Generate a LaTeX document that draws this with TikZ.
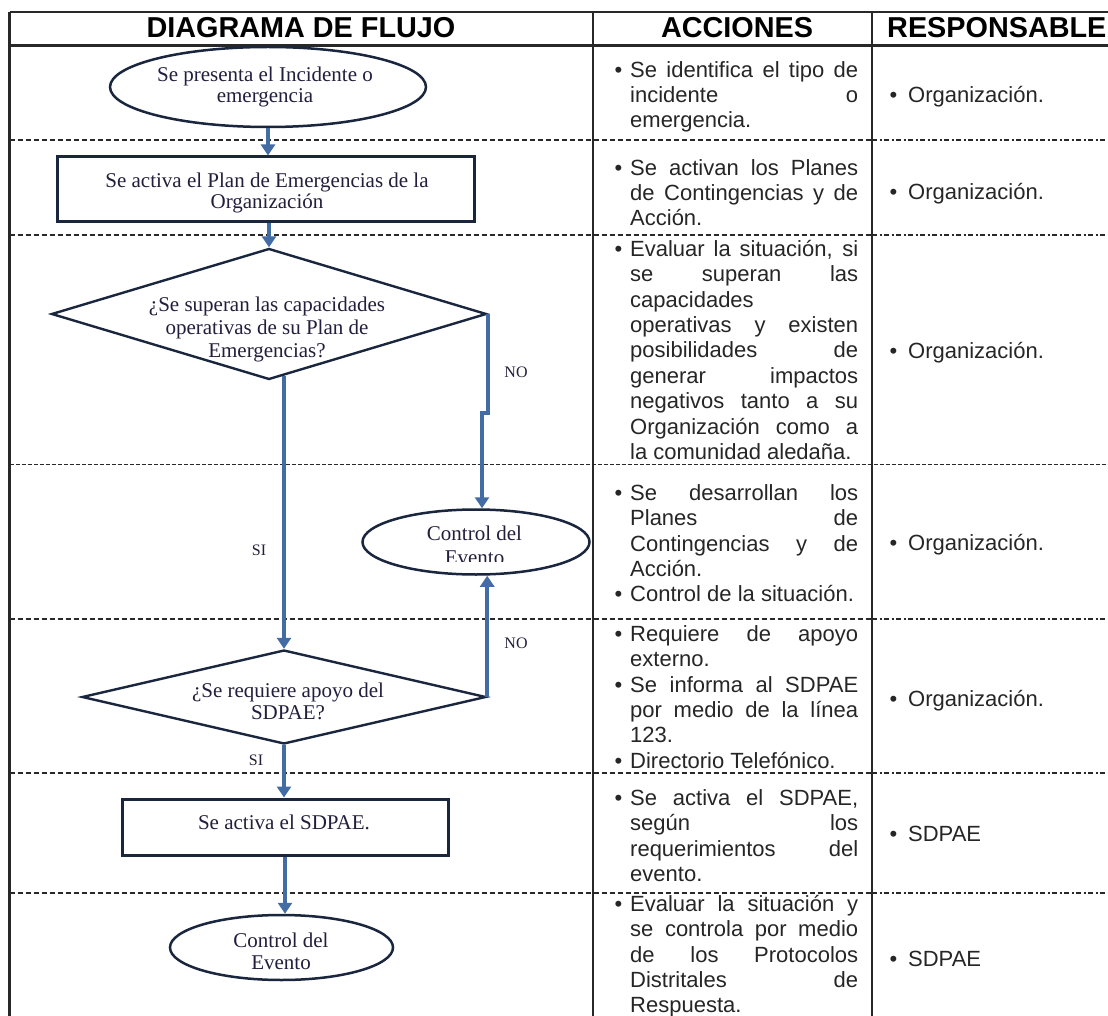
\documentclass[tikz,border=0pt]{standalone}
\usepackage{fontspec}
\setmainfont{Liberation Serif}
\newfontfamily\arialf{Liberation Sans}
\usetikzlibrary{shapes.geometric,arrows.meta,calc}
\definecolor{arrowblue}{RGB}{66,108,163}
\definecolor{shapeline}{RGB}{25,38,62}
\definecolor{shapetext}{RGB}{35,30,60}
\definecolor{gridline}{RGB}{40,40,40}
\newcommand{\jline}[1]{\makebox[228pt][s]{#1}}
\newcommand{\bul}{\llap{•\hspace{8pt}}}
\tikzset{
  grid/.style={draw=gridline, line width=2.5pt},
  sepA/.style={draw=gridline, line width=2pt, dash pattern=on 5pt off 3pt},
  sepB/.style={draw=gridline, line width=2pt, dash pattern=on 5pt off 2.5pt on 2pt off 2.5pt},
  sepC/.style={draw=gridline, line width=1pt, dash pattern=on 4pt off 2pt},
  hdr/.style={font=\arialf\bfseries\fontsize{28.8}{30}\selectfont, inner sep=0, text=black},
  acc/.style={font=\arialf\fontsize{22}{25.4}\selectfont, align=left, inner sep=0, anchor=north west, text=black!85},
  resp/.style={font=\arialf\fontsize{22}{25.4}\selectfont, inner sep=0, anchor=base west, text=black!85},
  term/.style={ellipse, draw=shapeline, line width=2.5pt, fill=white, inner sep=0},
  proc/.style={rectangle, draw=shapeline, line width=3pt, fill=white, inner sep=0},
  dec/.style={diamond, draw=shapeline, line width=2.4pt, fill=white, inner sep=0},
  ftext/.style={font=\fontsize{21}{21}\selectfont, align=center, inner sep=0, text=shapetext},
  lbl/.style={font=\fontsize{16}{17}\selectfont, inner sep=0, text=shapetext},
  flow/.style={draw=arrowblue, line width=3.8pt, -{Triangle[length=11pt,width=14pt]}},
}
\begin{document}
\begin{tikzpicture}[x=1pt,y=-1pt]
\useasboundingbox (0,0) rectangle (1108,1016);
\fill[white] (0,0) rectangle (1108,1016);

% table frame
\draw[grid] (9.5,12) -- (1108,12);
\draw[grid] (9.5,45.5) -- (1108,45.5);
\draw[grid] (9.5,12) -- (9.5,1016);
\draw[grid] (593,12) -- (593,1016);
\draw[grid] (872,12) -- (872,1016);
\foreach \yy in {140,235,619,773,893}{
  \draw[sepA] (9.5,\yy) -- (593,\yy) -- (872,\yy);
  \draw[sepB] (872,\yy) -- (1108,\yy);
}
\draw[sepC] (9.5,464) -- (1108,464);

% headers
\node[hdr] (h1) at (301,28) {DIAGRAMA DE FLUJO};
\node[hdr] (h2) at (737,28) {ACCIONES};
\node[hdr, anchor=west] (h3) at (887,28) {RESPONSABLE};

% flow shapes
\node[term, minimum width=316pt, minimum height=80pt] (e1) at (268,87) {};
\node[ftext] (te1) at (265,87) {Se presenta el Incidente o\\emergencia};

\node[proc, minimum width=417pt, minimum height=65pt] (r1) at (265.5,189.5) {};
\node[ftext] (tr1) at (267,193) {Se activa el Plan de Emergencias de la\\Organización};

\node[dec, minimum width=435pt, minimum height=131pt] (d1) at (269,314) {};
\begin{scope}
  \clip (60,280) rectangle (480,361);
  \node[ftext, font=\fontsize{21}{23}\selectfont] (td1) at (267,329) {¿Se superan las capacidades\\operativas de su Plan de\\Emergencias?};
\end{scope}

\node[term, minimum width=227pt, minimum height=65pt] (e2) at (476,542) {};
\begin{scope}
  \clip (380,515) rectangle (580,561);
  \node[ftext, font=\fontsize{21}{24}\selectfont] (te2) at (474.5,545) {Control del\\Evento};
\end{scope}

\node[dec, minimum width=404pt, minimum height=94pt] (d2) at (284,697) {};
\node[ftext, font=\fontsize{21}{22}\selectfont] (td2) at (288,701) {¿Se requiere apoyo del\\SDPAE?};

\node[proc, minimum width=326pt, minimum height=56pt] (r2) at (285,827) {};
\node[ftext] (tr2) at (284,822) {Se activa el SDPAE.};

\node[term, minimum width=223pt, minimum height=65pt] (e3) at (281.5,947.5) {};
\node[ftext, font=\fontsize{21}{22}\selectfont] (te3) at (281,951) {Control del\\Evento};

% connectors
\coordinate (jog) at (482,413);
\draw[flow] (e1.south) -- (e1.south |- r1.north);
\draw[flow] (r1.south -| d1.north) -- (d1.north);
\draw[flow] ($(d2.north |- d1.south)+(0,-5)$) -- (d2.north);
\draw[flow] (d1.east) -- (d1.east |- jog) -- (jog) -- (jog |- e2.north);
\draw[flow] (d2.east) -- (d2.east |- e2.south);
\draw[flow] (d2.south) -- (d2.south |- r2.north);
\draw[flow] (r2.south) -- (r2.south |- e3.north);

% labels
\node[lbl] (si1) at (259,550) {SI};
\node[lbl] (no1) at (516,372) {NO};
\node[lbl] (no2) at (516,643) {NO};
\node[lbl] (si2) at (256,760) {SI};

% acciones
\node[acc] (a1) at (630,59) {\rule{0pt}{18pt}\bul\jline{Se identifica el tipo de}\\\jline{incidente o}\\emergencia.};
\node[acc] (a2) at (630,157) {\rule{0pt}{18pt}\bul\jline{Se activan los Planes}\\\jline{de Contingencias y de}\\Acción.};
\node[acc] (a3) at (630,238) {\rule{0pt}{18pt}\bul\jline{Evaluar la situación, si}\\\jline{se superan las}\\capacidades\\\jline{operativas y existen}\\\jline{posibilidades de}\\\jline{generar impactos}\\\jline{negativos tanto a su}\\\jline{Organización como a}\\la comunidad aledaña.};
\node[acc] (a4) at (630,482) {\rule{0pt}{18pt}\bul\jline{Se desarrollan los}\\\jline{Planes de}\\\jline{Contingencias y de}\\Acción.\\\bul Control de la situación.};
\node[acc] (a5) at (630,623) {\rule{0pt}{18pt}\bul\jline{Requiere de apoyo}\\externo.\\\bul\jline{Se informa al SDPAE}\\\jline{por medio de la línea}\\123.\\\bul Directorio Telefónico.};
\node[acc] (a6) at (630,787) {\rule{0pt}{18pt}\bul\jline{Se activa el SDPAE,}\\\jline{según los}\\\jline{requerimientos del}\\evento.};
\node[acc] (a7) at (630,893) {\rule{0pt}{18pt}\bul\jline{Evaluar la situación y}\\\jline{se controla por medio}\\\jline{de los Protocolos}\\\jline{Distritales de}\\Respuesta.};

% responsable
\node[resp] (r1t) at (908,103) {\llap{•\hspace{11pt}}Organización.};
\node[resp] (r2t) at (908,200) {\llap{•\hspace{11pt}}Organización.};
\node[resp] (r3t) at (908,358) {\llap{•\hspace{11pt}}Organización.};
\node[resp] (r4t) at (908,550) {\llap{•\hspace{11pt}}Organización.};
\node[resp] (r5t) at (908,706) {\llap{•\hspace{11pt}}Organización.};
\node[resp] (r6t) at (908,841) {\llap{•\hspace{11pt}}SDPAE};
\node[resp] (r7t) at (908,966) {\llap{•\hspace{11pt}}SDPAE};
\end{tikzpicture}
\end{document}
